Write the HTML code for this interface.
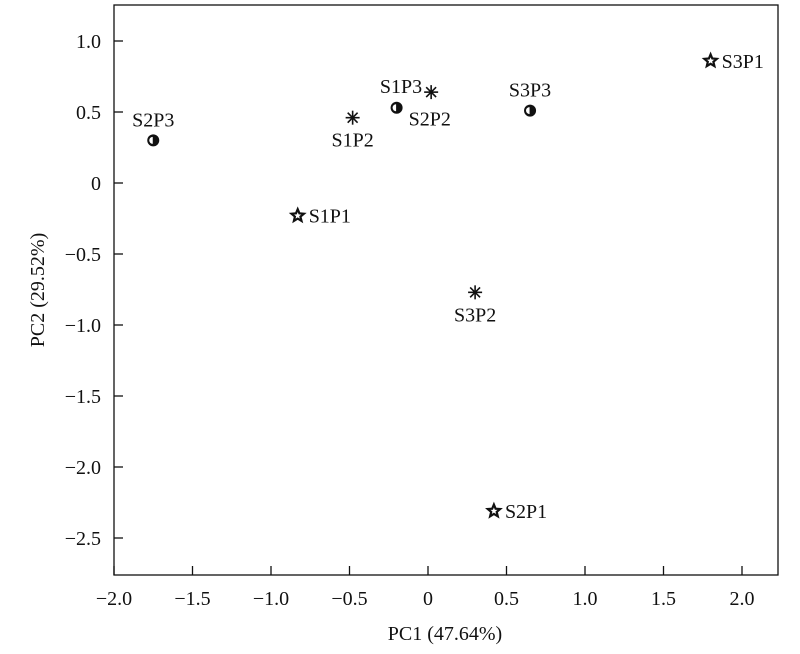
<!DOCTYPE html>
<html><head><meta charset="utf-8"><style>
body{margin:0;background:#fff;}
svg text{font-family:"Liberation Serif",serif;fill:#111;}
</style></head><body>
<svg width="800" height="649" viewBox="0 0 800 649">
<rect x="114" y="5" width="664" height="570" fill="none" stroke="#111" stroke-width="1.3"/>
<g id="axes"></g>
<g id="pts"></g>
<text x="445" y="640" font-size="20" text-anchor="middle">PC1 (47.64%)</text>
<text x="0" y="0" font-size="20" text-anchor="middle" transform="translate(44,290) rotate(-90)">PC2 (29.52%)</text>
</svg>
<script>
const labels=["S3P1","S2P3","S1P2","S2P2","S1P3","S3P3","S1P1","S3P2","S2P1"];
const pc1=[1.80,-1.75,-0.48,-0.20,0.02,0.65,-0.83,0.30,0.42];
const pc2=[0.86,0.30,0.46,0.53,0.64,0.51,-0.23,-0.77,-2.31];
const markers=["star","half","ast","half","ast","half","star","ast","star"];
const labelPos=["right","above","below","belowright","aboveleft","above","right","below","right"];
const xTicks=[-2.0,-1.5,-1.0,-0.5,0,0.5,1.0,1.5,2.0];
const yTicks=[1.0,0.5,0,-0.5,-1.0,-1.5,-2.0,-2.5];
const xs=v=>428+v*157, ys=v=>183-v*142;
const NS="http://www.w3.org/2000/svg";
const fmt=v=>v===0?"0":(v<0?"\u2212":"")+Math.abs(v).toFixed(1);
const ax=document.getElementById('axes'), pg=document.getElementById('pts');
function mk(tag,attrs,parent){const e=document.createElementNS(NS,tag);for(const k in attrs)e.setAttribute(k,attrs[k]);parent.appendChild(e);return e;}
xTicks.forEach(v=>{const x=xs(v);
 const l=mk('line',{x1:x,x2:x,y1:575,y2:566,stroke:'#111','stroke-width':1.3},ax);
 
 
 const t=mk('text',{x:x,y:605,'font-size':20,'text-anchor':'middle'},ax);t.textContent=fmt(v);
 
 });
yTicks.forEach(v=>{const y=ys(v);
 const l=mk('line',{x1:114,x2:123,y1:y,y2:y,stroke:'#111','stroke-width':1.3},ax);
 
 
 const t=mk('text',{x:101,y:y+7,'font-size':20,'text-anchor':'end'},ax);t.textContent=fmt(v);
 
 });
function starPts(cx,cy,R,r){let p=[];for(let i=0;i<10;i++){const a=-Math.PI/2+i*Math.PI/5,rr=i%2?r:R;p.push((cx+rr*Math.cos(a)).toFixed(1)+","+(cy+rr*Math.sin(a)).toFixed(1));}return p.join(" ");}
labels.forEach((lab,i)=>{const x=xs(pc1[i]),y=ys(pc2[i]);const g=mk('g',{},pg);
 
 
 const m=markers[i];
 if(m==='star'){mk('polygon',{points:starPts(x,y,6.5,2.9),fill:'#fff',stroke:'#111','stroke-width':2.2,'stroke-linejoin':'miter'},g);}
 else if(m==='ast'){for(let k=0;k<4;k++){const a=k*Math.PI/4;mk('line',{x1:x-7*Math.cos(a),y1:y-7*Math.sin(a),x2:x+7*Math.cos(a),y2:y+7*Math.sin(a),stroke:'#111','stroke-width':1.6},g);}}
 else{mk('circle',{cx:x,cy:y,r:6,fill:'#111'},g);mk('path',{d:`M${x-0.5},${y-3.5} A3.5,3.5 0 0 0 ${x-0.5},${y+3.5} Z`,fill:'#fff'},g);}
 let tx=x,ty=y,anc='start';const p=labelPos[i];
 if(p==='right'){tx=x+11;ty=y+7;}
 else if(p==='above'){anc='middle';ty=y-14;}
 else if(p==='below'){anc='middle';ty=y+29;}
 else if(p==='belowright'){tx=x+12;ty=y+18;}
 else if(p==='aboveleft'){anc='end';tx=x-9;ty=y+1;}
 const t=mk('text',{x:tx,y:ty,'font-size':20,'text-anchor':anc},g);t.textContent=lab;
 
 
});
</script>
</body></html>
